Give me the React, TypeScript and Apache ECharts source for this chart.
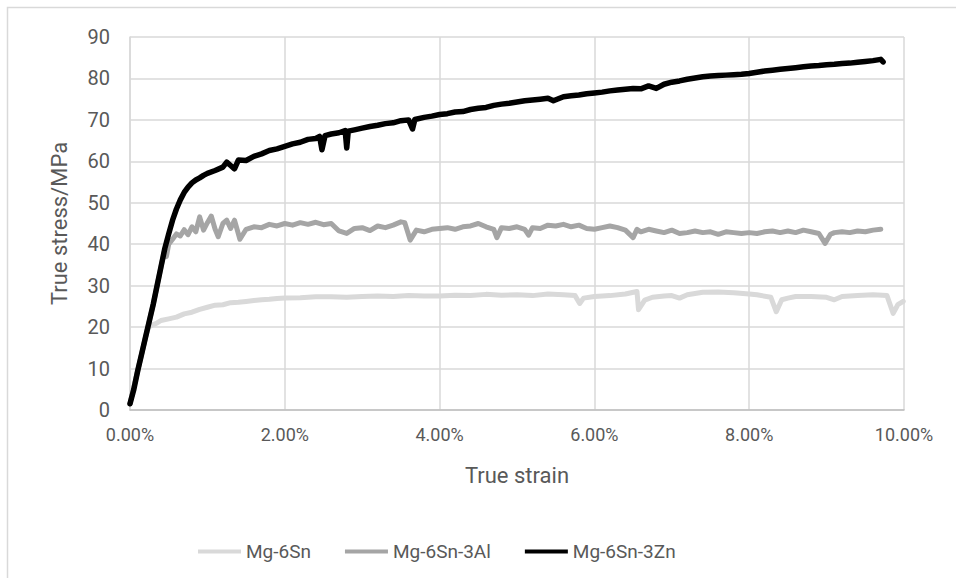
import React, { useEffect, useRef } from "react";
import * as echarts from "echarts";

// strain in %, stress in MPa
const snStrain = [0, 0.1, 0.2, 0.24, 0.3, 0.35, 0.4, 0.5, 0.6, 0.7, 0.8, 0.9, 1.0, 1.1, 1.2, 1.3, 1.4, 1.5, 1.6, 1.7, 1.8, 1.9, 2.0, 2.2, 2.4, 2.6, 2.8, 3.0, 3.2, 3.4, 3.6, 3.8, 4.0, 4.2, 4.4, 4.6, 4.8, 5.0, 5.2, 5.4, 5.6, 5.75, 5.81, 5.86, 6.0, 6.2, 6.4, 6.55, 6.57, 6.65, 6.75, 6.9, 7.0, 7.1, 7.2, 7.4, 7.6, 7.8, 8.0, 8.1, 8.28, 8.35, 8.42, 8.5, 8.6, 8.8, 9.0, 9.1, 9.2, 9.4, 9.6, 9.78, 9.86, 9.92, 9.99];
const snStress = [1.5, 9.5, 17.5, 20.0, 20.6, 21.0, 21.6, 22.0, 22.4, 23.2, 23.6, 24.3, 24.8, 25.3, 25.4, 25.9, 26.0, 26.2, 26.4, 26.6, 26.7, 26.9, 27.0, 27.1, 27.3, 27.3, 27.2, 27.4, 27.5, 27.4, 27.6, 27.5, 27.5, 27.7, 27.6, 27.9, 27.7, 27.8, 27.6, 28.0, 27.8, 27.6, 25.7, 27.0, 27.4, 27.6, 28.0, 28.6, 24.2, 26.5, 27.2, 27.5, 27.6, 27.0, 27.8, 28.4, 28.5, 28.3, 28.0, 27.8, 27.2, 23.7, 26.6, 27.0, 27.4, 27.4, 27.2, 26.6, 27.4, 27.6, 27.8, 27.6, 23.3, 25.4, 26.2];

const alStrain = [0, 0.1, 0.2, 0.3, 0.4, 0.45, 0.47, 0.5, 0.55, 0.6, 0.65, 0.7, 0.75, 0.8, 0.85, 0.9, 0.95, 1.0, 1.05, 1.1, 1.14, 1.2, 1.25, 1.3, 1.35, 1.42, 1.5, 1.6, 1.7, 1.8, 1.9, 2.0, 2.1, 2.2, 2.3, 2.4, 2.5, 2.6, 2.7, 2.8, 2.9, 3.0, 3.1, 3.2, 3.3, 3.4, 3.5, 3.55, 3.62, 3.7, 3.8, 3.9, 4.0, 4.1, 4.2, 4.3, 4.4, 4.5, 4.6, 4.7, 4.74, 4.8, 4.9, 5.0, 5.1, 5.15, 5.2, 5.3, 5.4, 5.5, 5.6, 5.7, 5.8, 5.9, 6.0, 6.1, 6.2, 6.3, 6.4, 6.5, 6.55, 6.6, 6.7, 6.8, 6.9, 7.0, 7.1, 7.2, 7.3, 7.4, 7.5, 7.6, 7.7, 7.8, 7.9, 8.0, 8.1, 8.2, 8.3, 8.4, 8.5, 8.6, 8.7, 8.8, 8.9, 8.98, 9.05, 9.1, 9.2, 9.3, 9.4, 9.5, 9.6, 9.7];
const alStress = [1.5, 9.5, 17.5, 25.5, 34.5, 38.8, 37.0, 40.0, 41.2, 42.5, 42.0, 43.5, 42.3, 44.2, 43.0, 46.6, 43.4, 45.2, 46.8, 43.6, 41.8, 45.0, 45.8, 43.8, 45.8, 41.2, 43.6, 44.2, 44.0, 44.8, 44.4, 45.0, 44.6, 45.2, 44.8, 45.3, 44.7, 45.0, 43.2, 42.6, 43.8, 44.0, 43.3, 44.4, 44.0, 44.6, 45.4, 45.2, 41.0, 43.4, 43.0, 43.6, 43.8, 44.0, 43.6, 44.2, 44.4, 45.0, 44.2, 43.6, 41.6, 44.0, 43.8, 44.2, 43.6, 42.2, 44.0, 43.8, 44.6, 44.4, 44.8, 44.2, 44.6, 43.8, 43.6, 44.0, 44.4, 44.0, 43.4, 41.6, 43.6, 43.0, 43.6, 43.2, 42.8, 43.4, 42.6, 42.8, 43.2, 42.8, 43.0, 42.4, 43.0, 42.8, 42.6, 42.8, 42.6, 43.0, 43.2, 42.8, 43.2, 42.8, 43.4, 43.0, 42.6, 40.2, 42.4, 42.8, 43.0, 42.8, 43.2, 43.0, 43.4, 43.6];

const znStrain = [0, 0.05, 0.1, 0.15, 0.2, 0.25, 0.3, 0.35, 0.4, 0.45, 0.5, 0.55, 0.6, 0.65, 0.7, 0.75, 0.8, 0.85, 0.9, 0.95, 1.0, 1.1, 1.2, 1.25, 1.3, 1.35, 1.4, 1.5, 1.6, 1.7, 1.8, 1.9, 2.0, 2.1, 2.2, 2.3, 2.4, 2.45, 2.48, 2.52, 2.6, 2.7, 2.78, 2.8, 2.82, 2.9, 3.0, 3.1, 3.2, 3.3, 3.4, 3.5, 3.6, 3.65, 3.68, 3.8, 3.9, 4.0, 4.1, 4.2, 4.3, 4.4, 4.5, 4.6, 4.7, 4.8, 4.9, 5.0, 5.1, 5.2, 5.3, 5.4, 5.47, 5.6, 5.7, 5.8, 5.9, 6.0, 6.1, 6.2, 6.3, 6.4, 6.5, 6.6, 6.7, 6.8, 6.9, 7.0, 7.1, 7.2, 7.3, 7.4, 7.5, 7.6, 7.7, 7.8, 7.9, 8.0, 8.1, 8.2, 8.3, 8.4, 8.5, 8.6, 8.7, 8.8, 8.9, 9.0, 9.1, 9.2, 9.3, 9.4, 9.5, 9.6, 9.7, 9.73];
const znStress = [1.5, 5.0, 9.5, 13.5, 17.5, 21.5, 25.5, 30.0, 34.5, 39.0, 42.5, 45.8, 48.5, 50.7, 52.5, 53.8, 54.8, 55.5, 56.0, 56.6, 57.1, 57.8, 58.6, 59.8, 59.0, 58.2, 60.3, 60.2, 61.2, 61.8, 62.6, 63.0, 63.6, 64.2, 64.6, 65.3, 65.5, 66.0, 62.8, 66.2, 66.6, 66.9, 67.4, 63.2, 67.3, 67.6, 68.0, 68.4, 68.7, 69.1, 69.3, 69.8, 70.0, 67.8, 70.1, 70.6, 70.9, 71.3, 71.5, 71.9, 72.0, 72.5, 72.8, 73.0, 73.5, 73.8, 74.0, 74.3, 74.6, 74.8, 75.0, 75.2, 74.6, 75.6, 75.8, 76.0, 76.3, 76.5, 76.7, 77.0, 77.2, 77.4, 77.6, 77.5, 78.2, 77.6, 78.6, 79.1, 79.4, 79.8, 80.1, 80.4, 80.6, 80.7, 80.8, 80.9, 81.0, 81.2, 81.5, 81.8, 82.0, 82.2, 82.4, 82.6, 82.8, 83.0, 83.1, 83.3, 83.4, 83.6, 83.7, 83.9, 84.1, 84.3, 84.6, 84.0];

const seriesNames = ["Mg-6Sn", "Mg-6Sn-3Al", "Mg-6Sn-3Zn"];
const yTicks = { min: 0, max: 90, interval: 10 };
const xTicks = { min: 0, max: 0.1, interval: 0.02 };

const toPairs = (xs: number[], ys: number[]) => xs.map((x, i) => [x / 100, ys[i]]);

const FONT = "Roboto, 'Noto Sans', sans-serif";

export default function App() {
  const ref = useRef<HTMLDivElement>(null);
  useEffect(() => {
    if (!ref.current) return;
    const chart = echarts.init(ref.current, undefined, { renderer: "svg" });
    chart.setOption({
      animation: false,
      backgroundColor: "#ffffff",
      textStyle: { fontFamily: FONT },
      grid: { left: 130, right: 52, top: 37, bottom: 168, containLabel: false, outerBoundsMode: "none" },
      graphic: [
        {
          type: "rect",
          silent: true,
          z: -10,
          shape: { x: 7.5, y: 7.5, width: 1000, height: 1000 },
          style: { fill: "none", stroke: "#d9d9d9", lineWidth: 1.5 },
        },
      ],
      legend: {
        left: 193,
        top: 537,
        itemWidth: 43,
        itemHeight: 4,
        itemGap: 34,
        icon: "rect",
        data: seriesNames,
        textStyle: { fontSize: 19, color: "#595959", fontFamily: FONT },
      },
      xAxis: {
        type: "value",
        min: xTicks.min,
        max: xTicks.max,
        interval: xTicks.interval,
        name: "True strain",
        nameLocation: "middle",
        nameGap: 54,
        nameTextStyle: { fontSize: 22, color: "#595959", fontFamily: FONT },
        axisLine: { show: true, lineStyle: { color: "#bfbfbf", width: 1.5 } },
        axisTick: { show: false },
        splitLine: { show: true, lineStyle: { color: "#d9d9d9", width: 1.5 } },
        axisLabel: {
          fontSize: 18,
          color: "#595959",
          margin: 15,
          formatter: (v: number) => (v * 100).toFixed(2) + "%",
        },
      },
      yAxis: {
        type: "value",
        min: yTicks.min,
        max: yTicks.max,
        interval: yTicks.interval,
        name: "True stress/MPa",
        nameLocation: "middle",
        nameGap: 60,
        nameTextStyle: { fontSize: 22, color: "#595959", fontFamily: FONT },
        axisLine: { show: true, lineStyle: { color: "#d9d9d9", width: 1.5 } },
        axisTick: { show: false },
        splitLine: { show: true, lineStyle: { color: "#d9d9d9", width: 1.5 } },
        axisLabel: { fontSize: 20, color: "#595959", margin: 20 },
      },
      series: [
        {
          name: seriesNames[0],
          type: "line",
          showSymbol: false,
          data: toPairs(snStrain, snStress),
          color: "#d9d9d9",
          lineStyle: { width: 5, color: "#d9d9d9", join: "round", cap: "round" },
          z: 2,
        },
        {
          name: seriesNames[1],
          type: "line",
          showSymbol: false,
          data: toPairs(alStrain, alStress),
          color: "#a5a5a5",
          lineStyle: { width: 5, color: "#a5a5a5", join: "round", cap: "round" },
          z: 3,
        },
        {
          name: seriesNames[2],
          type: "line",
          showSymbol: false,
          data: toPairs(znStrain, znStress),
          color: "#000000",
          lineStyle: { width: 5.5, color: "#000000", join: "round", cap: "round" },
          z: 4,
        },
      ],
    });
    return () => chart.dispose();
  }, []);
  return (
    <div
      ref={ref}
      style={{ position: "absolute", left: 0, top: 0, width: 956, height: 578 }}
    />
  );
}
